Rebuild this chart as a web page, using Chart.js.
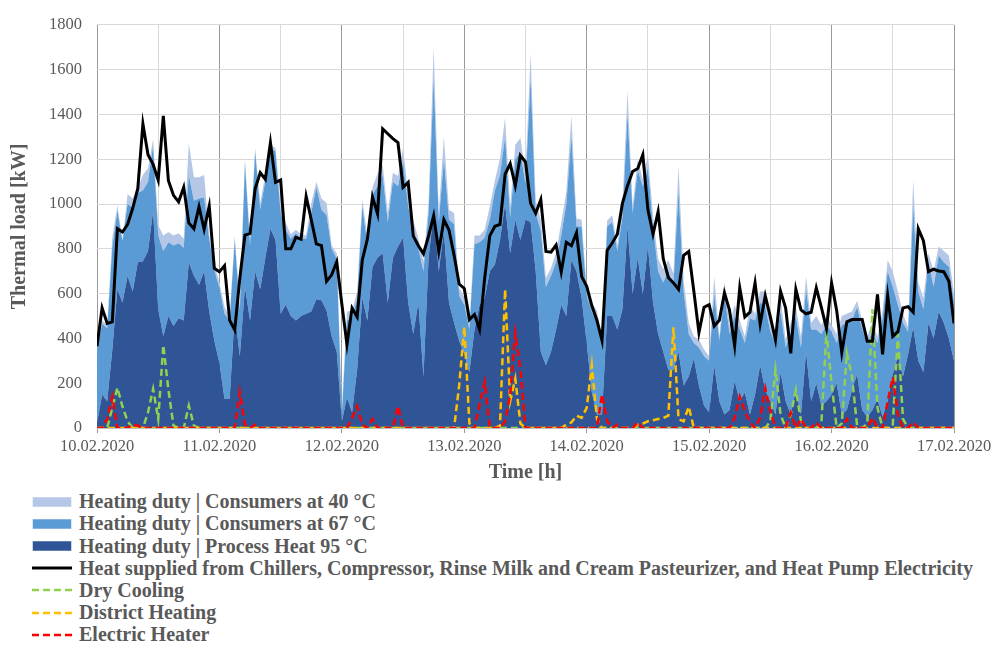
<!DOCTYPE html>
<html>
<head>
<meta charset="utf-8">
<script src="https://cdn.jsdelivr.net/npm/chart.js@4.4.1/dist/chart.umd.min.js"></script>
<style>
  html, body { margin: 0; padding: 0; background: #fff; }
  #wrap { position: relative; width: 998px; height: 645px; overflow: hidden; }
  #box { position: absolute; left: 0; top: 0; }
  #legend { position: absolute; left: 32px; top: 490.6px; color: #595959;
    font: bold 20px "Liberation Serif", "Times New Roman", serif; }
  .row { height: 22.2px; display: flex; align-items: center; white-space: nowrap; }
  .row svg { width: 40px; height: 12px; margin-right: 7px; flex: none; }
</style>
</head>
<body>
<div id="wrap">
  <canvas id="box" width="998" height="490"></canvas>
  <div id="legend"></div>
</div>
<script>
// tick labels, one per day (every 24 h)
const dateLabels = ['10.02.2020', '11.02.2020', '12.02.2020', '13.02.2020',
  '14.02.2020', '15.02.2020', '16.02.2020', '17.02.2020'];

// hourly values in kW (rows = days)
const process95 = [
  20,150,120,350,620,560,680,610,740,745,790,970,530,410,500,455,490,480,740,680,640,700,520,390,
  290,130,130,510,320,630,480,700,620,760,890,840,510,550,500,480,500,510,520,575,570,525,410,340,
  30,135,70,260,580,480,720,760,780,560,760,810,850,560,420,560,230,760,960,700,880,560,470,390,
  330,250,440,550,580,700,730,840,1000,780,930,840,930,920,700,340,280,340,440,550,500,750,700,580,
  380,160,60,60,500,500,440,530,900,600,760,600,810,560,420,340,260,260,340,190,230,310,190,100,
  70,280,120,60,80,210,120,160,60,150,280,170,120,60,250,120,60,170,60,340,120,200,100,120,
  150,200,60,80,170,240,80,50,80,130,50,120,240,320,230,330,450,300,250,470,400,520,470,400,
  300
];
const consumers67 = [
  330,315,325,460,350,275,320,375,310,315,310,290,330,380,330,360,335,325,390,335,385,330,325,315,
  335,380,350,330,205,555,335,535,355,345,360,395,450,335,345,390,345,335,440,500,405,425,390,415,
  30,345,420,320,410,340,320,320,350,360,340,270,340,430,460,240,470,200,600,220,320,370,440,200,
  220,190,380,280,270,230,330,290,300,160,270,390,160,640,260,540,350,340,300,310,500,550,200,320,
  210,360,410,320,400,420,350,410,500,360,390,480,350,340,280,310,440,380,720,420,190,70,170,220,
  230,320,270,540,340,290,320,220,430,330,280,370,310,320,270,240,370,330,300,280,320,240,320,340,
  280,180,400,390,310,300,360,330,350,250,440,580,390,230,240,100,540,310,280,270,230,250,270,320,
  260
];
const consumers40 = [
  40,15,15,40,25,5,45,40,25,70,60,30,45,70,45,45,45,40,140,105,95,100,15,25,
  25,30,20,20,30,15,30,15,30,30,15,15,30,30,20,15,20,15,45,25,50,55,15,25,
  30,40,35,30,30,40,35,55,45,40,40,45,60,55,50,45,45,45,140,40,100,45,50,35,
  35,30,40,30,35,60,45,75,85,50,65,65,45,115,55,50,40,35,45,55,55,95,35,30,
  30,40,55,20,25,30,25,50,105,30,50,30,60,45,55,60,50,50,110,50,50,30,35,30,
  20,75,20,53,40,50,40,30,60,30,50,71,40,30,60,35,40,40,50,57,30,60,40,40,
  30,40,40,40,40,28,40,30,40,30,35,49,68,60,40,20,117,40,50,40,70,40,50,50,
  40
];
const heatSupplied = [
  365,536,467,474,890,875,909,981,1070,1358,1220,1177,1107,1394,1104,1039,1010,1075,916,890,988,887,991,713,
  698,725,481,438,669,861,869,1068,1140,1111,1275,1097,1107,800,800,851,843,1035,930,822,814,655,684,742,
  553,372,536,496,749,843,1032,956,1336,1314,1292,1275,1075,1097,858,814,778,858,948,788,930,884,771,643,
  623,484,507,440,669,858,901,909,1133,1180,1082,1217,1188,1003,959,1020,788,785,817,696,829,814,872,677,
  633,546,481,391,793,826,865,1003,1082,1145,1159,1220,974,865,966,756,672,648,619,771,788,611,426,539,
  551,455,481,604,525,368,626,496,517,648,464,590,496,394,611,536,333,619,527,510,517,626,539,445,
  648,525,336,474,484,484,484,387,387,597,329,590,409,430,536,542,517,890,836,698,709,701,698,655,
  467
];
const dryCooling = [
  0,0,0,90,180,95,30,0,0,0,70,175,40,370,170,10,0,0,100,10,0,0,0,0,
  0,0,0,0,0,0,0,0,0,0,0,0,0,0,0,0,0,0,0,0,0,0,0,0,
  0,0,0,0,0,0,0,0,0,0,0,0,0,0,0,0,0,0,0,0,0,0,0,0,
  0,0,0,0,0,0,0,0,0,0,0,0,0,0,0,0,0,0,0,0,0,0,0,0,
  0,0,0,0,0,0,0,0,0,0,0,0,0,0,0,0,0,0,0,0,0,0,0,0,
  0,0,0,0,0,0,0,0,0,0,0,0,30,260,60,0,60,170,30,0,0,0,20,430,
  200,0,20,335,230,10,0,20,530,90,0,0,15,420,40,0,0,0,0,0,0,0,0,0,
  0
];
const districtHeating = [
  0,0,0,0,0,0,0,0,0,0,0,0,0,0,0,0,0,0,0,0,0,0,0,0,
  0,0,0,0,0,0,0,0,0,0,0,0,0,0,0,0,0,0,0,0,0,0,0,0,
  0,0,0,0,0,0,0,0,0,0,0,0,0,0,0,0,0,0,0,0,0,0,0,190,
  452,20,0,0,0,0,0,10,619,120,220,20,0,0,0,0,0,0,0,0,15,25,55,45,
  90,280,40,0,0,0,0,0,0,0,15,20,30,35,40,45,55,450,40,30,95,0,0,0,
  0,0,0,0,0,0,0,0,0,0,0,0,0,0,0,0,0,0,0,0,0,0,0,0,
  0,0,0,0,0,0,0,0,0,0,0,0,0,0,0,0,0,0,0,0,0,0,0,0,
  0
];
const electricHeater = [
  0,0,40,140,0,0,0,15,10,0,0,0,0,0,0,0,0,0,0,0,0,0,0,0,
  0,0,0,0,160,15,0,15,0,0,0,0,0,0,0,0,0,0,0,0,0,0,0,0,
  0,0,45,97,15,0,40,0,0,0,0,97,0,0,0,0,0,0,0,0,0,0,0,0,
  0,0,0,105,205,0,0,0,30,150,423,264,0,0,0,0,0,0,0,0,0,0,0,0,
  0,0,0,150,30,0,15,0,0,0,25,0,0,0,0,0,0,0,0,0,0,0,0,0,
  0,0,0,0,0,45,140,75,25,0,45,177,75,0,0,0,68,0,40,0,0,25,0,0,
  0,0,0,40,0,0,0,0,46,0,0,119,227,60,0,0,25,0,0,0,0,0,0,0,
  0
];

const serif = '"Liberation Serif", "Times New Roman", serif';
const textGray = '#595959';
const dash = [7, 4];

function pts(values) {
  return values.map((v, i) => ({ x: i, y: v }));
}

const area = (label, values, color, fill) => ({
  label, data: pts(values), stack: 'heat', fill,
  backgroundColor: color, borderColor: color, borderWidth: 0, pointRadius: 0, tension: 0
});
const line = (label, values, color, width, stack, dashed) => ({
  label, data: pts(values), stack, fill: false,
  borderColor: color, backgroundColor: color, borderWidth: width,
  borderDash: dashed ? dash : [], pointRadius: 0, tension: 0
});

// lines first so they are painted above the areas
const datasets = [
  line('Heat supplied from Chillers, Compressor, Rinse Milk and Cream Pasteurizer, and Heat Pump Electricity', heatSupplied, '#000000', 3, 's1', false),
  line('Electric Heater', electricHeater, '#FF0000', 2.5, 's2', true),
  line('District Heating', districtHeating, '#FFC000', 2.5, 's3', true),
  line('Dry Cooling', dryCooling, '#92D050', 2.5, 's4', true),
  area('Heating duty | Process Heat 95 °C', process95, '#2F5597', 'origin'),
  area('Heating duty | Consumers at 67 °C', consumers67, '#5B9BD5', '-1'),
  area('Heating duty | Consumers at 40 °C', consumers40, '#B4C7E7', '-1')
];

const chart = new Chart(document.getElementById('box'), {
  type: 'line',
  data: { datasets },
  options: {
    responsive: false,
    animation: false,
    devicePixelRatio: 1,
    layout: { padding: { left: 0, right: 44, top: 13, bottom: 0 } },
    plugins: { legend: { display: false }, tooltip: { enabled: false } },
    scales: {
      x: {
        type: 'linear', min: 0, max: 168,
        ticks: {
          stepSize: 12, autoSkip: false, maxRotation: 0, padding: 4,
          color: textGray, font: { family: serif, size: 16.5 },
          callback: v => (v % 24 === 0 ? dateLabels[v / 24] : '')
        },
        grid: {
          color: c => (c.tick && c.tick.value % 24 === 0 ? '#9a9a9a' : '#d9d9d9'),
          tickColor: c => (c.tick && c.tick.value % 24 === 0 ? '#9a9a9a' : 'rgba(0,0,0,0)'),
          tickLength: 5
        },
        border: { color: '#bfbfbf' },
        title: {
          display: true, text: 'Time [h]', color: textGray,
          font: { family: serif, size: 20, weight: 'bold' }, padding: { top: 0, bottom: 5 }
        },
        afterFit: s => { s.height = 62; }
      },
      y: {
        stacked: true, min: 0, max: 1800,
        ticks: {
          stepSize: 200, padding: 15, color: textGray, font: { family: serif, size: 16.5 },
          callback: v => String(v)
        },
        grid: { color: '#d9d9d9', drawTicks: false },
        border: { display: false },
        title: {
          display: true, text: 'Thermal load [kW]', color: textGray,
          font: { family: serif, size: 20, weight: 'bold' }, padding: { top: 8, bottom: 0 }
        },
        afterFit: s => { s.width = 97; }
      }
    }
  }
});

// legend in the original order, built from the datasets
const legendOrder = [6, 5, 4, 0, 3, 2, 1];
const legend = document.getElementById('legend');
legendOrder.forEach(i => {
  const ds = chart.data.datasets[i];
  const row = document.createElement('div');
  row.className = 'row';
  let mark;
  if (ds.stack === 'heat') {
    mark = `<rect x="0.5" y="1" width="39" height="10" fill="${ds.backgroundColor}" stroke="#ffffff" stroke-opacity="0.5"/>`;
  } else {
    const d = ds.borderDash.length ? `stroke-dasharray="${ds.borderDash.join(' ')}"` : '';
    mark = `<line x1="0" y1="6" x2="40" y2="6" stroke="${ds.borderColor}" stroke-width="${ds.borderWidth}" ${d}/>`;
  }
  row.innerHTML = `<svg viewBox="0 0 40 12">${mark}</svg><span>${ds.label}</span>`;
  legend.appendChild(row);
});
</script>
</body>
</html>
